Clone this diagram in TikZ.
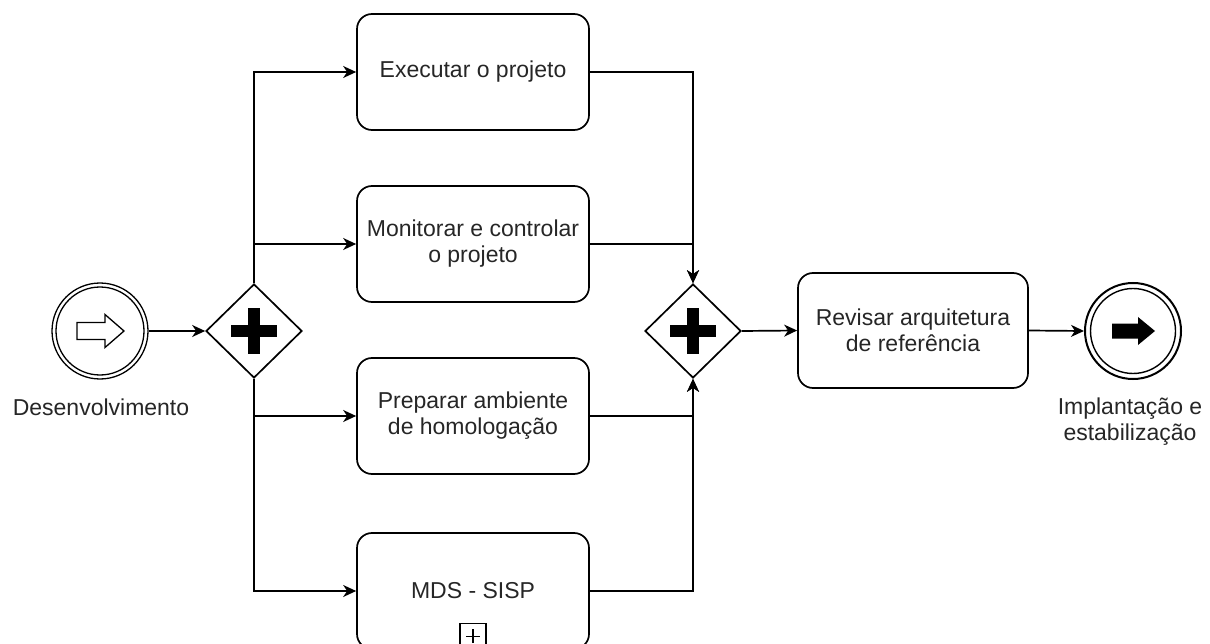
\documentclass[tikz,border=0pt]{standalone}
\usepackage{fontspec}
\setmainfont{Liberation Sans}
\usetikzlibrary{shapes.geometric,arrows.meta}
\begin{document}
\begin{tikzpicture}[x=1pt,y=-1pt,
  txt/.style={text=black!85,font=\fontsize{23}{26}\selectfont,align=center},
  task/.style={txt,draw,line width=1.7pt,rounded corners=15pt,minimum width=232pt,minimum height=116pt,inner sep=0pt},
  gate/.style={draw,diamond,line width=1.7pt,minimum width=96pt,minimum height=94pt,inner sep=0pt,aspect=1},
  evt/.style={circle,draw,minimum size=96pt,inner sep=0pt},
  flow/.style={line width=1.7pt,-{Stealth[length=13pt,width=12pt,inset=4pt]}},
  lab/.style={txt,inner sep=0pt}]
\useasboundingbox (0,0) rectangle (1210,644);

% start event
\node[evt,line width=1.3pt] (S) at (100,331) {};
\draw[line width=1.3pt] (S.center) circle (44pt);
\draw[line width=1.3pt] ([shift={(-23,-8.5)}]S.center) -- ++(28,0) -- ++(0,-8) -- ++(19,16.5) -- ++(-19,16.5) -- ++(0,-8) -- ++(-28,0) -- cycle;
\node[lab,anchor=base] (Slab) at (101,415) {Desenvolvimento};

% end event
\node[evt,line width=2pt] (E) at (1133,331) {};
\draw[line width=1.4pt] (E.center) circle (42.5pt);
\fill ([shift={(-21,-7.5)}]E.center) -- ++(26,0) -- ++(0,-6.5) -- ++(17,14) -- ++(-17,14) -- ++(0,-6.5) -- ++(-26,0) -- cycle;
\node[lab,anchor=north] (Elab) at (1130,397.5) {Implantação e\\estabilização};

% gateways
\node[gate] (G1) at (254,331) {};
\fill (G1.center) +(-23,-6) rectangle +(23,6);
\fill (G1.center) +(-6,-23) rectangle +(6,23);
\node[gate] (G2) at (693,331) {};
\fill (G2.center) +(-23,-6) rectangle +(23,6);
\fill (G2.center) +(-6,-23) rectangle +(6,23);

% tasks
\node[task] (T1) at (473,72) {Executar o projeto};
\node[task] (T2) at (473,244) {Monitorar e controlar\\o projeto};
\node[task] (T3) at (473,416) {Preparar ambiente\\de homologação};
\node[task] (T4) at (473,591) {MDS - SISP};
\node[draw,line width=1.3pt,minimum size=26pt,inner sep=0pt,anchor=south] (M) at (T4.south) {};
\draw[line width=1.3pt] ([xshift=-7pt]M.center) -- ([xshift=7pt]M.center) ([yshift=-7pt]M.center) -- ([yshift=7pt]M.center);
\node[task,minimum width=230pt,minimum height=115pt] (R) at (913,330.5) {Revisar arquitetura\\de referência};

% sequence flows
\draw[flow] (S) -- (G1.west);
\draw[flow] (G1.north) |- (T1.west);
\draw[flow] (G1.north) |- (T2.west);
\draw[flow] (G1.south) |- (T3.west);
\draw[flow] (G1.south) |- (T4.west);
\draw[flow] (T1.east) -| (G2.north);
\draw[flow] (T2.east) -| (G2.north);
\draw[flow] (T3.east) -| (G2.south);
\draw[flow] (T4.east) -| (G2.south);
\draw[flow] (G2.east) -- (R.west);
\draw[flow] (R.east) -- (E.west);
\end{tikzpicture}
\end{document}
